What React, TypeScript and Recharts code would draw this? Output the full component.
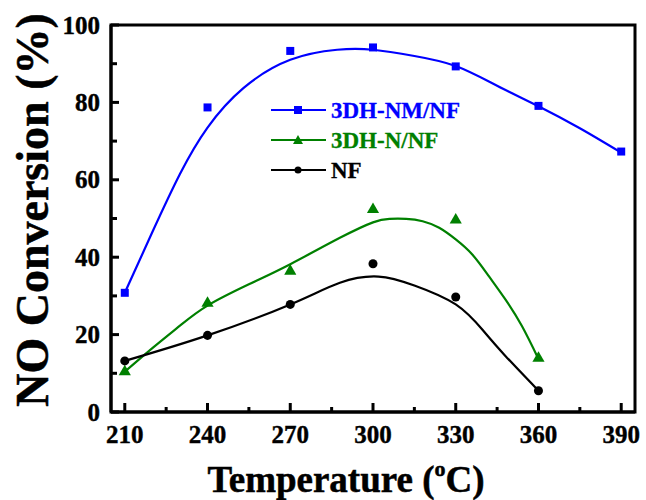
import React from "react";
import {
  ComposedChart,
  Line,
  Scatter,
  XAxis,
  YAxis,
  ReferenceArea,
} from "recharts";

// Measured points
const tempsNM = [210, 240, 270, 300, 330, 360, 390];
const valsNM = [30.8, 78.7, 93.3, 94.2, 89.3, 79.1, 67.3];
const tempsN = [210, 240, 270, 300, 330, 360];
const valsN = [10.4, 28.1, 36.4, 52.3, 49.6, 13.9];
const tempsNF = [210, 240, 270, 300, 330, 360];
const valsNF = [13.2, 19.8, 27.8, 38.3, 29.7, 5.5];

// Fitted curves
const fitTempsNM = [210, 220, 230, 240, 253, 270, 287, 300, 315, 330, 345, 360, 375, 390];
const fitValsNM = [30.8, 46.5, 61.5, 73.5, 83.7, 91, 93.6, 93.6, 92, 89.4, 84.3, 79, 73.3, 67];
const fitTempsN = [210, 220, 230, 240, 255, 270, 288, 300, 306, 312, 318, 324, 330, 336, 342, 348, 354, 360];
const fitValsN = [10.4, 16.5, 22.3, 27.5, 33, 38.2, 45, 49, 49.9, 49.9, 49.3, 47.6, 44.6, 40.7, 35.1, 29.1, 22.2, 13.7];
const fitTempsNF = [210, 240, 270, 288, 302, 315, 330, 340, 348, 360];
const fitValsNF = [13.2, 19.8, 27.8, 33.4, 35, 32.7, 27.8, 21, 14.5, 5.5];

const xTicks = [210, 225, 240, 255, 270, 285, 300, 315, 330, 345, 360, 375, 390];
const yTicks = [0, 10, 20, 30, 40, 50, 60, 70, 80, 90, 100];

const seriesNames = ["3DH-NM/NF", "3DH-N/NF", "NF"];
const seriesColors = ["#0000FF", "#008000", "#000000"];
const seriesShapes = ["square", "triangle", "circle"];

const toRows = (ts: number[], vs: number[]) => ts.map((t, i) => ({ t, v: vs[i] }));

const pointsNM = toRows(tempsNM, valsNM);
const pointsN = toRows(tempsN, valsN);
const pointsNF = toRows(tempsNF, valsNF);
const fitNM = toRows(fitTempsNM, fitValsNM);
const fitN = toRows(fitTempsN, fitValsN);
const fitNF = toRows(fitTempsNF, fitValsNF);

const FONT = '"Liberation Serif", "Times New Roman", serif';

const XTick = (props: any) => {
  const { x, y, payload } = props;
  const major = payload.value % 30 === 0;
  return (
    <g>
      <line x1={x} x2={x} y1={y} y2={y - (major ? 9 : 5)} stroke="#000" strokeWidth={3} />
      {major && (
        <text x={x} y={y + 31} textAnchor="middle" fontFamily={FONT} fontWeight="bold" fontSize={25} fill="#000" stroke="#000" strokeWidth={0.4}>
          {payload.value}
        </text>
      )}
    </g>
  );
};

const YTick = (props: any) => {
  const { x, y, payload } = props;
  const major = payload.value % 20 === 0;
  return (
    <g>
      <line x1={x} x2={x + (major ? 8 : 6)} y1={y} y2={y} stroke="#000" strokeWidth={3} />
      {major && (
        <text x={x - 11} y={y} dy="0.34em" textAnchor="end" fontFamily={FONT} fontWeight="bold" fontSize={25} fill="#000" stroke="#000" strokeWidth={0.4}>
          {payload.value}
        </text>
      )}
    </g>
  );
};

const LegendMarker = ({ shape, color, cx, cy }: any) => {
  if (shape === "square") return <rect x={cx - 4} y={cy - 4} width={8} height={8} fill={color} />;
  if (shape === "triangle")
    return <polygon points={`${cx},${cy - 5} ${cx - 5},${cy + 4} ${cx + 5},${cy + 4}`} fill={color} />;
  return <circle cx={cx} cy={cy} r={3.5} fill={color} />;
};

export default function App() {
  return (
    <div style={{ position: "absolute", left: 0, top: 0, width: 646, height: 500, background: "#fff" }}>
      <ComposedChart width={646} height={500} margin={{ top: 25, right: 11, bottom: 0, left: 0 }}>
        <XAxis
          dataKey="t"
          type="number"
          domain={[205, 395]}
          ticks={xTicks}
          height={88}
          tickSize={0}
          tickMargin={0}
          tick={<XTick />}
          axisLine={{ stroke: "#000", strokeWidth: 3 }}
          tickLine={false}
          allowDataOverflow
        />
        <YAxis
          type="number"
          domain={[0, 100]}
          ticks={yTicks}
          width={111}
          tickSize={0}
          tickMargin={0}
          tick={<YTick />}
          axisLine={{ stroke: "#000", strokeWidth: 3 }}
          tickLine={false}
          allowDataOverflow
        />
        <ReferenceArea x1={205} x2={395} y1={0} y2={100} fill="none" stroke="#000" strokeWidth={3} />
        <Line data={fitNM} dataKey="v" type="natural" stroke={seriesColors[0]} strokeWidth={2.2} dot={false} isAnimationActive={false} />
        <Line data={fitN} dataKey="v" type="natural" stroke={seriesColors[1]} strokeWidth={2.2} dot={false} isAnimationActive={false} />
        <Line data={fitNF} dataKey="v" type="natural" stroke={seriesColors[2]} strokeWidth={2.2} dot={false} isAnimationActive={false} />
        <Scatter data={pointsNM} dataKey="v" fill={seriesColors[0]} shape="square" isAnimationActive={false} {...({ size: 95 } as any)} />
        <Scatter data={pointsN} dataKey="v" fill={seriesColors[1]} shape="triangle" isAnimationActive={false} {...({ size: 80 } as any)} />
        <Scatter data={pointsNF} dataKey="v" fill={seriesColors[2]} shape="circle" isAnimationActive={false} {...({ size: 70 } as any)} />
      </ComposedChart>
      <svg width={646} height={500} style={{ position: "absolute", left: 0, top: 0, pointerEvents: "none" }}>
        {seriesNames.map((name, i) => {
          const cy = 110 + i * 30;
          return (
            <g key={name}>
              <line x1={271} x2={326} y1={cy} y2={cy} stroke={seriesColors[i]} strokeWidth={2.2} />
              <LegendMarker shape={seriesShapes[i]} color={seriesColors[i]} cx={298} cy={cy} />
              <text x={331} y={cy} dy="0.34em" fontFamily={FONT} fontWeight="bold" fontSize={23} fill={seriesColors[i]} stroke={seriesColors[i]} strokeWidth={0.3}>
                {name}
              </text>
            </g>
          );
        })}
        <text x={346} y={492} textAnchor="middle" fontFamily={FONT} fontWeight="bold" fontSize={37} fill="#000" stroke="#000" strokeWidth={0.5}>
          Temperature (<tspan fontSize={22} dy={-16}>o</tspan><tspan dy={16}>C)</tspan>
        </text>
        <text
          x={0}
          y={0}
          transform="translate(48,210) rotate(-90)"
          textAnchor="middle"
          fontFamily={FONT}
          fontWeight="bold"
          fontSize={46}
          fill="#000"
          stroke="#000"
          strokeWidth={0.5}
        >
          NO Conversion (%)
        </text>
      </svg>
    </div>
  );
}
